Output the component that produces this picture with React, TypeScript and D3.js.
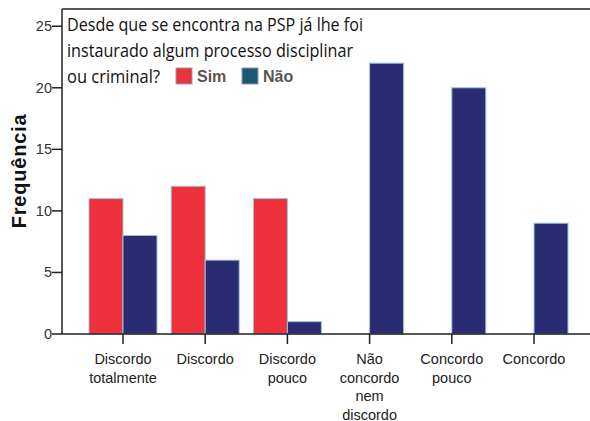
import React, { useEffect, useRef } from 'react';
import * as d3 from 'd3';

const categories = [
  'Discordo totalmente',
  'Discordo',
  'Discordo pouco',
  'Não concordo nem discordo',
  'Concordo pouco',
  'Concordo',
];
const categoryLines = [
  ['Discordo', 'totalmente'],
  ['Discordo'],
  ['Discordo', 'pouco'],
  ['Não', 'concordo', 'nem', 'discordo'],
  ['Concordo', 'pouco'],
  ['Concordo'],
];
const series = ['Sim', 'Não'];
const simValues = [11, 12, 11, 0, 0, 0];
const naoValues = [8, 6, 1, 22, 20, 9];
const yTicks = [0, 5, 10, 15, 20, 25];
const titleLines = [
  'Desde que se encontra na PSP já lhe foi',
  'instaurado algum processo disciplinar',
  'ou criminal?',
];

const App = () => {
  const svgRef = useRef<SVGSVGElement>(null);

  useEffect(() => {
    if (!svgRef.current) return;
    const svg = d3.select(svgRef.current);
    svg.selectAll('*').remove();

    const width = 590;
    const left = 62;
    const top = 9;
    const bottom = 334;
    const font = '"Liberation Sans", Arial, sans-serif';

    const y = d3.scaleLinear().domain([0, 26.4]).range([bottom, top]);
    const x = d3.scaleBand<string>().domain(categories).range([81.9, 575.1]).padding(0);
    const sub = d3.scaleBand<string>().domain(series).range([x.bandwidth() / 2 - 34, x.bandwidth() / 2 + 34]);

    const colors: Record<string, string> = { Sim: '#ee313c', 'Não': '#2a2b72' };
    const legendColors: Record<string, string> = { Sim: '#ee313c', 'Não': '#1f5670' };

    // frame
    svg.append('line').attr('x1', left).attr('x2', width).attr('y1', top).attr('y2', top)
      .attr('stroke', '#222').attr('stroke-width', 1.5);
    svg.append('line').attr('x1', left).attr('x2', left).attr('y1', top).attr('y2', bottom)
      .attr('stroke', '#222').attr('stroke-width', 1.5);

    // bars
    const data = categories.flatMap((c, i) => [
      { c, s: 'Sim', v: simValues[i] },
      { c, s: 'Não', v: naoValues[i] },
    ]).filter(d => d.v > 0);

    svg.append('g').selectAll('rect').data(data).enter().append('rect')
      .attr('x', d => (x(d.c) as number) + (sub(d.s) as number))
      .attr('y', d => y(d.v))
      .attr('width', sub.bandwidth())
      .attr('height', d => bottom - y(d.v))
      .attr('fill', d => colors[d.s])
      .attr('stroke', '#9fc3d0')
      .attr('stroke-width', 1);

    // x axis
    svg.append('line').attr('x1', left).attr('x2', width).attr('y1', bottom).attr('y2', bottom)
      .attr('stroke', '#222').attr('stroke-width', 1.5);
    categories.forEach((c, i) => {
      const cx = (x(c) as number) + x.bandwidth() / 2;
      svg.append('line').attr('x1', cx).attr('x2', cx).attr('y1', bottom).attr('y2', bottom + 10)
        .attr('stroke', '#222').attr('stroke-width', 1.5);
      const t = svg.append('text').attr('x', cx).attr('y', 364).attr('text-anchor', 'middle')
        .attr('font-family', font).attr('font-size', 14.5).attr('fill', '#222');
      categoryLines[i].forEach((l, j) => {
        t.append('tspan').attr('x', cx).attr('dy', j === 0 ? 0 : 18.5).text(l);
      });
    });

    // y axis
    yTicks.forEach(v => {
      svg.append('line').attr('x1', left - 10).attr('x2', left).attr('y1', y(v)).attr('y2', y(v))
        .attr('stroke', '#222').attr('stroke-width', 1.5);
      svg.append('text').attr('x', left - 10).attr('y', y(v) + 5).attr('text-anchor', 'end')
        .attr('font-family', font).attr('font-size', 14.5).attr('fill', '#333').text(v);
    });

    svg.append('text')
      .attr('transform', `translate(26, 171) rotate(-90)`)
      .attr('text-anchor', 'middle')
      .attr('font-family', font).attr('font-size', 20).attr('font-weight', 'bold')
      .attr('fill', '#111').attr('letter-spacing', 0.8)
      .text('Frequência');

    // title / legend
    const titleWidths = [296, 286, 93];
    titleLines.forEach((l, i) => {
      svg.append('text').attr('x', 67).attr('y', 31 + i * 26)
        .attr('font-family', '"Open Sans", sans-serif').attr('font-size', 18).attr('fill', '#111')
        .attr('textLength', titleWidths[i]).attr('lengthAdjust', 'spacingAndGlyphs')
        .text(l);
    });

    const legendX = [176, 242];
    series.forEach((s, i) => {
      svg.append('rect').attr('x', legendX[i]).attr('y', 68).attr('width', 16).attr('height', 16)
        .attr('fill', legendColors[s]).attr('stroke', '#8aa0b0').attr('stroke-width', 1);
      svg.append('text').attr('x', legendX[i] + 21).attr('y', 82)
        .attr('font-family', font).attr('font-size', 16).attr('font-weight', 'bold')
        .attr('fill', '#555').text(s);
    });
  }, []);

  return (
    <svg ref={svgRef} width={590} height={421}
      style={{ position: 'absolute', left: 0, top: 0, background: '#fff' }} />
  );
};

export default App;
